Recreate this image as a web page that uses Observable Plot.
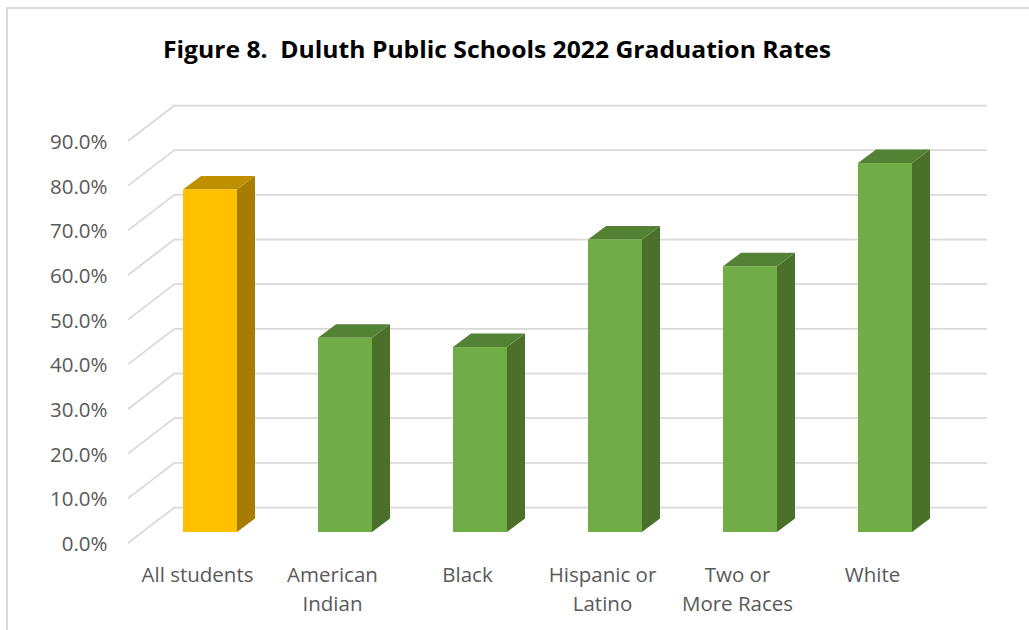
<!DOCTYPE html>
<html>
<head>
<meta charset="utf-8">
<script src="https://cdn.jsdelivr.net/npm/d3@7"></script>
<script src="https://cdn.jsdelivr.net/npm/@observablehq/plot@0.6"></script>
<style>
  html, body { margin: 0; padding: 0; background: #fff; overflow: hidden; }
  #wrap { position: relative; width: 1029px; height: 630px; overflow: hidden; background: #fff; }
  #frame { position: absolute; left: 6px; top: 7px; width: 1200px; height: 800px; border: 2px solid #d9d9d9; box-sizing: border-box; }
  #title { position: absolute; top: 39px; left: 497px; white-space: pre; font-family: "Open Sans", sans-serif; font-weight: 700; font-size: 22.5px; line-height: 1; color: #000; transform-origin: 0 0; }
  #chart { position: absolute; left: 0; top: 0; }
</style>
</head>
<body>
<div id="wrap">
  <div id="frame"></div>
  <div id="chart"></div>
  <div id="title">Figure 8.  Duluth Public Schools 2022 Graduation Rates</div>
</div>
<script>
// ---- data ----
const categories = ["All students", "American Indian", "Black", "Hispanic or Latino", "Two or More Races", "White"];
const categoryLabels = ["All students", "American\nIndian", "Black", "Hispanic or\nLatino", "Two or\nMore Races", "White"];
const rates = [0.767, 0.435, 0.414, 0.655, 0.595, 0.826];
const yTicks = [0, 0.1, 0.2, 0.3, 0.4, 0.5, 0.6, 0.7, 0.8, 0.9];
const highlightCategory = "All students";

// ---- styles ----
const palette = {
  highlight: { front: "#FFC000", side: "#A67D00", top: "#BF9000" },
  base: { front: "#70AD47", side: "#4A7029", top: "#548235" }
};
const WALL = { front: { dx: -14, dy: 11 }, back: { dx: 33, dy: -25 } };
const DEPTH = { dx: 18, dy: -13.5 };
const GRID = "#d9d9d9";
const TEXT = "#595959";

const data = categories.map((c, i) => ({ category: c, rate: rates[i] }));
const colorsFor = d => d.category === highlightCategory ? palette.highlight : palette.base;

function bar3d(index, scales, values, dimensions, context, next) {
  const g = next(index, scales, values, dimensions, context);
  const rects = Array.from(g.querySelectorAll("rect"));
  const ns = "http://www.w3.org/2000/svg";
  rects.forEach((r, k) => {
    const d = data[index[k]];
    const c = colorsFor(d);
    const x = +r.getAttribute("x"), y = +r.getAttribute("y");
    const w = +r.getAttribute("width"), h = +r.getAttribute("height");
    const side = document.createElementNS(ns, "polygon");
    side.setAttribute("points", [
      [x + w, y], [x + w + DEPTH.dx, y + DEPTH.dy],
      [x + w + DEPTH.dx, y + h + DEPTH.dy], [x + w, y + h]
    ].map(p => p.join(",")).join(" "));
    side.setAttribute("fill", c.side);
    const top = document.createElementNS(ns, "polygon");
    top.setAttribute("points", [
      [x, y], [x + w, y], [x + w + DEPTH.dx, y + DEPTH.dy], [x + DEPTH.dx, y + DEPTH.dy]
    ].map(p => p.join(",")).join(" "));
    top.setAttribute("fill", c.top);
    r.parentNode.insertBefore(side, r);
    r.parentNode.insertBefore(top, r);
  });
  return g;
}

function wallDiagonals(index, scales, values, dimensions) {
  const g = d3.create("svg:g").attr("stroke", GRID).attr("stroke-width", 1.75).attr("fill", "none");
  for (const i of index) {
    const y = values.y[i];
    g.append("line")
      .attr("x1", dimensions.marginLeft + WALL.front.dx).attr("y1", y + WALL.front.dy)
      .attr("x2", dimensions.marginLeft + WALL.back.dx).attr("y2", y + WALL.back.dy);
  }
  return g.node();
}

const plot = Plot.plot({
  width: 1029,
  height: 630,
  marginLeft: 142,
  marginRight: 75,
  marginTop: 130,
  marginBottom: 98,
  style: { fontFamily: "'Open Sans', sans-serif", background: "transparent", overflow: "visible" },
  x: { domain: categories, paddingInner: 0.597, paddingOuter: 0.2985, label: null },
  y: { domain: [0, 0.9], label: null },
  color: { type: "identity" },
  marks: [
    Plot.ruleY(yTicks, { stroke: GRID, strokeWidth: 1.75, dx: WALL.back.dx, dy: WALL.back.dy }),
    Plot.ruleY(yTicks, { stroke: GRID, render: wallDiagonals }),
    Plot.barY(data, { x: "category", y: "rate", fill: d => colorsFor(d).front, render: bar3d }),
    Plot.axisY({ ticks: yTicks, tickSize: 0, tickPadding: 35, dy: 12, tickFormat: d3.format(".1%"), fontSize: 20.5, fill: TEXT, label: null }),
    Plot.axisX({ tickSize: 0, tickPadding: 29, dx: -13, tickFormat: d => categoryLabels[categories.indexOf(d)], fontSize: 20.5, lineHeight: 1.4, fill: TEXT, label: null })
  ]
});
document.getElementById("chart").appendChild(plot);

// fit title to reference width
const title = document.getElementById("title");
const tw = title.getBoundingClientRect().width;
const targetW = 668;
title.style.transform = `translateX(${-targetW / 2}px) scaleX(${targetW / tw})`;
</script>
</body>
</html>
